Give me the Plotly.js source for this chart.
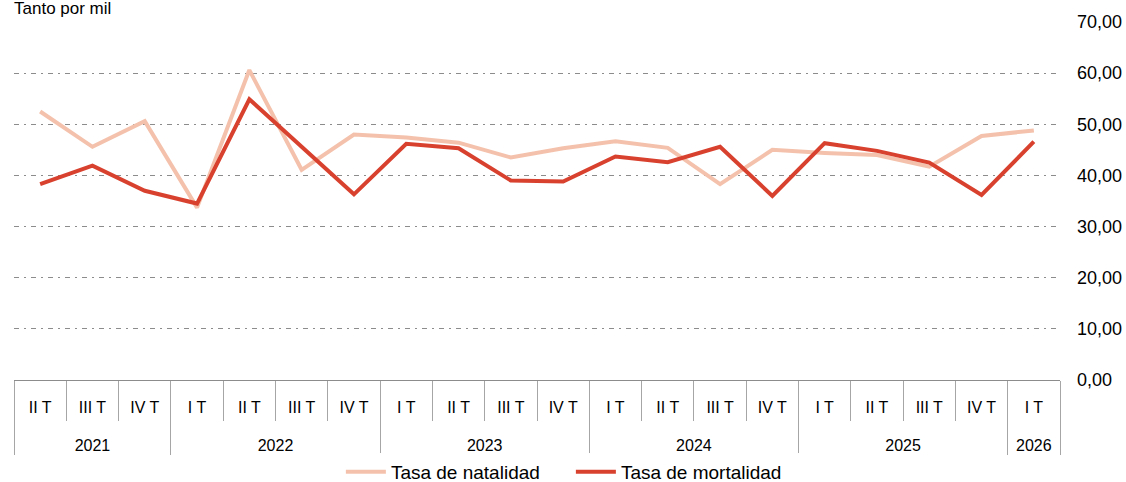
<!DOCTYPE html>
<html>
<head>
<meta charset="utf-8">
<script src="https://cdn.plot.ly/plotly-3.0.1.min.js"></script>
<style>
  html, body { margin: 0; padding: 0; background: #fff; }
  #chart { width: 1126px; height: 482px; }
</style>
</head>
<body>
<div id="chart"></div>
<script>
const years = ["2021","2021","2021","2022","2022","2022","2022","2023","2023","2023","2023","2024","2024","2024","2024","2025","2025","2025","2025","2026"];
const quarters = ["II T","III T","IV T","I T","II T","III T","IV T","I T","II T","III T","IV T","I T","II T","III T","IV T","I T","II T","III T","IV T","I T"];
const natalidad = [52.5, 45.6, 50.6, 33.7, 60.6, 41.1, 48.0, 47.4, 46.4, 43.5, 45.3, 46.7, 45.4, 38.3, 45.0, 44.4, 44.0, 41.7, 47.7, 48.8];
const mortalidad = [38.3, 41.9, 37.0, 34.5, 54.9, 45.6, 36.3, 46.2, 45.3, 39.0, 38.8, 43.7, 42.6, 45.6, 36.0, 46.3, 44.8, 42.5, 36.2, 46.6];
const yTicks = [0, 10, 20, 30, 40, 50, 60, 70];

const font = "Liberation Sans, Arial, sans-serif";

// Plotly orders inner multicategory labels by first appearance; the first year
// starts at "II T", so its labels get a distinct (invisibly wrapped) key so that
// "I T" sorts before "II T" in the following years. A trailing blank line makes
// the quarter row taller, like the reference.
const innerLabels = quarters.map((q, i) =>
  (years[i] === years[0] ? "<span>" + q + "</span>" : q) +
  "<br><span style=\"font-size:44px\">\u00a0</span>");

const traces = [
  {
    x: [years, innerLabels], y: natalidad, type: "scatter", mode: "lines",
    name: "Tasa de natalidad",
    line: { color: "#F4C2AC", width: 4 }
  },
  {
    x: [years, innerLabels], y: mortalidad, type: "scatter", mode: "lines",
    name: "Tasa de mortalidad",
    line: { color: "#D9412F", width: 4 }
  }
];

const layout = {
  width: 1126, height: 482,
  margin: { l: 14, r: 66, t: 22, b: 102, autoexpand: false },
  paper_bgcolor: "#ffffff", plot_bgcolor: "#ffffff",
  font: { family: font, color: "#000000", size: 16 },
  showlegend: true,
  legend: {
    orientation: "h", x: 0.507, xanchor: "center", xref: "container",
    y: 0.021, yanchor: "middle", yref: "container",
    font: { size: 19, family: font, color: "#000" },
    itemwidth: 40, tracegroupgap: 0, entrywidth: 175
  },
  annotations: [{
    text: "Tanto por mil", xref: "paper", yref: "paper", x: 0, y: 1,
    xanchor: "left", yanchor: "bottom", yshift: 2, xshift: -2, showarrow: false,
    font: { size: 17, family: font, color: "#000" }
  }],
  xaxis: {
    type: "multicategory",
    range: [-0.5, years.length - 0.5],
    showgrid: false, zeroline: false,
    showline: true, linecolor: "#8c8c8c", linewidth: 1,
    ticks: "outside", tickson: "boundaries", ticklen: 40, tickcolor: "#a6a6a6", tickwidth: 1,
    showdividers: true, dividercolor: "#a6a6a6", dividerwidth: 1,
    ticklabelstandoff: 13, tickangle: 0, automargin: false,
    tickfont: { size: 16, family: font, color: "#000" },
    fixedrange: true
  },
  yaxis: {
    side: "right", range: [0, 70], tickvals: yTicks,
    tickformat: ".2f", automargin: false,
    showgrid: true, gridcolor: "#8c8c8c", gridwidth: 1, griddash: "5px,5px,2px,5px",
    zeroline: false, showline: false, ticks: "",
    ticklabelstandoff: 16,
    tickfont: { size: 18, family: font, color: "#000" },
    fixedrange: true
  },
  separators: ",."
};

Plotly.newPlot("chart", traces, layout, { displayModeBar: false, staticPlot: true });
</script>
</body>
</html>
